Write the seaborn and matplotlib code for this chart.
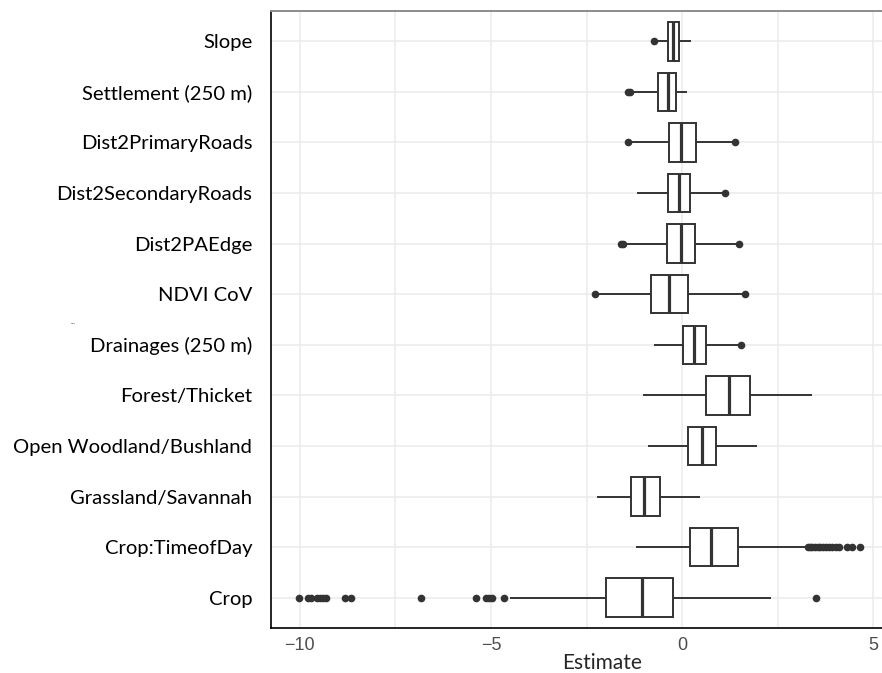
import matplotlib
matplotlib.use('Agg')
import matplotlib.pyplot as plt
from matplotlib.ticker import MultipleLocator
import pandas as pd
import seaborn as sns

# Coefficient estimates (box = quartiles, whiskers = last in-range value)
variables = ['Slope', 'Settlement (250 m)', 'Dist2PrimaryRoads', 'Dist2SecondaryRoads',
             'Dist2PAEdge', 'NDVI CoV', 'Drainages (250 m)', 'Forest/Thicket',
             'Open Woodland/Bushland', 'Grassland/Savannah', 'Crop:TimeofDay', 'Crop']
whisker_low = [-0.70, -1.32, -1.36, -1.18, -1.52, -2.22, -0.73, -1.03, -0.89, -2.24, -1.21, -4.51]
q1 = [-0.36, -0.645, -0.35, -0.375, -0.41, -0.82, 0.02, 0.62, 0.15, -1.34, 0.20, -1.98]
median = [-0.25, -0.37, -0.02, -0.09, -0.04, -0.34, 0.30, 1.22, 0.52, -0.99, 0.76, -1.06]
q3 = [-0.08, -0.175, 0.35, 0.20, 0.33, 0.16, 0.62, 1.76, 0.89, -0.59, 1.45, -0.23]
whisker_high = [0.22, 0.13, 1.33, 1.05, 1.42, 1.58, 1.45, 3.38, 1.95, 0.46, 3.22, 2.32]

outliers = {
    'Slope': [-0.74],
    'Settlement (250 m)': [-1.42, -1.37],
    'Dist2PrimaryRoads': [-1.41, 1.39],
    'Dist2SecondaryRoads': [1.11],
    'Dist2PAEdge': [-1.59, -1.55, 1.49],
    'NDVI CoV': [-2.29, 1.65],
    'Drainages (250 m)': [1.53],
    'Crop:TimeofDay': [3.28, 3.34, 3.40, 3.47, 3.54, 3.61, 3.68, 3.76, 3.84, 3.92,
                       4.02, 4.10, 4.31, 4.44, 4.64],
    'Crop': [-10.02, -9.78, -9.70, -9.54, -9.46, -9.38, -9.32, -8.82, -8.65, -6.82,
             -5.38, -5.14, -5.05, -4.96, -4.65, 3.51],
}

# five values per variable reproduce the box exactly with linear percentiles
box_df = pd.DataFrame({
    'Variable': [v for v in variables for _ in range(5)],
    'Estimate': [x for row in zip(whisker_low, q1, median, q3, whisker_high) for x in row],
})
out_df = pd.DataFrame(
    [(k, x) for k, vals in outliers.items() for x in vals],
    columns=['Variable', 'Estimate'])

sns.set_style('white')
plt.rcParams['font.family'] = ['Lato', 'DejaVu Sans']

fig = plt.figure(figsize=(8.82, 6.73), dpi=100)
ax = fig.add_axes([271 / 882, 45 / 673, 617.4 / 882, 617 / 673])

sns.boxplot(data=box_df, x='Estimate', y='Variable', order=variables, whis=(0, 100),
            width=0.76, color='white', linecolor='#333333', linewidth=1.4,
            showcaps=False, medianprops={'linewidth': 2.3}, ax=ax)
sns.stripplot(data=out_df, x='Estimate', y='Variable', order=variables, jitter=False,
              color='#333333', size=5.5, linewidth=0, ax=ax)

ax.set_xlim(-10.75, 5.39)
ax.set_ylim(11.6, -0.6)
ax.set_axisbelow(True)
ax.xaxis.set_minor_locator(MultipleLocator(2.5))
ax.grid(which='both', axis='x', color='#ebebeb', linewidth=1.1)
ax.grid(which='major', axis='y', color='#ebebeb', linewidth=1.1)

ax.set_xticks([-10, -5, 0, 5])
ax.set_xticklabels(['\u221210', '\u22125', '0', '5'], fontfamily='Liberation Sans',
                   fontsize=13, color='#4d4d4d')
ax.tick_params(axis='x', which='major', length=3.5, width=1, color='#333333', pad=3)
ax.tick_params(axis='y', which='major', length=3.5, width=1, color='#333333', pad=10,
               labelsize=14.6, labelcolor='black')
ax.tick_params(which='minor', length=0)
ax.set_xlabel('')
ax.set_ylabel('')

ax.spines['right'].set_visible(False)
ax.spines['top'].set_color('#8c8c8c')
ax.spines['top'].set_linewidth(1.4)
for s in ('left', 'bottom'):
    ax.spines[s].set_color('black')
    ax.spines[s].set_linewidth(1.2)

fig.text(602 / 882, 4 / 673, 'Estimate', fontsize=15, ha='center', va='baseline')
fig.text(73 / 882, 1 - 321 / 673, '...', fontsize=5, color='#555555', ha='center', va='center')

fig.savefig('out.png', dpi=100)
